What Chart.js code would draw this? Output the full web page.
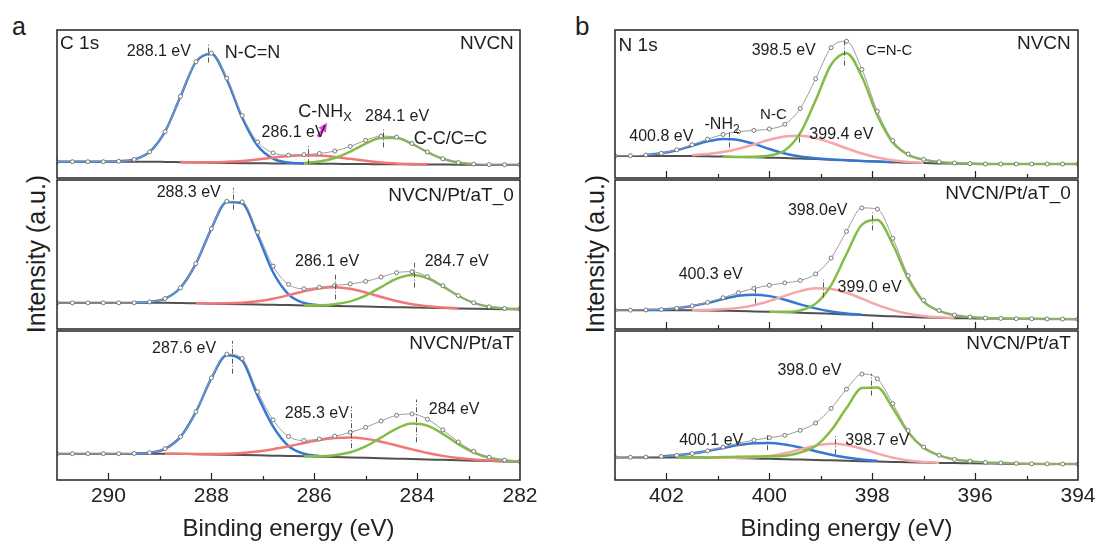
<!DOCTYPE html>
<html>
<head>
<meta charset="utf-8">
<script src="https://cdn.jsdelivr.net/npm/chart.js@4.4.1/dist/chart.umd.min.js"></script>
<style>
  body { margin: 0; background: #fff; }
  #wrap { position: relative; width: 1099px; height: 546px; overflow: hidden; font-family: "Liberation Sans", Arial, sans-serif; color: #1e1e1e; }
  #wrap canvas { position: absolute; }
  .t { position: absolute; line-height: 1; white-space: nowrap; }
  .yl { position: absolute; line-height: 1; white-space: nowrap; font-size: 25px; transform: translate(-50%, -50%) rotate(-90deg); }
</style>
</head>
<body>
<div id="wrap">
  <div class="t" style="left:12px;top:14px;font-size:25px">a</div>
  <div class="t" style="left:575px;top:13px;font-size:26px">b</div>
  <div class="yl" style="left:36px;top:254px">Intensity (a.u.)</div>
  <div class="yl" style="left:595px;top:254px">Intensity (a.u.)</div>
</div>
<script>
const _ = null;

// binding energy grids (eV)
const energyC = [291.0, 290.7, 290.4, 290.1, 289.8, 289.5, 289.2, 288.9, 288.6, 288.3, 288.0, 287.7, 287.4, 287.1, 286.8, 286.5,
  286.2, 285.9, 285.6, 285.3, 285.0, 284.7, 284.4, 284.1, 283.8, 283.5, 283.2, 282.9, 282.6, 282.3, 282.0];
const energyN = [403.0, 402.7, 402.4, 402.1, 401.8, 401.5, 401.2, 400.9, 400.6, 400.3, 400.0, 399.7, 399.4, 399.1, 398.8, 398.5,
  398.2, 397.9, 397.6, 397.3, 397.0, 396.7, 396.4, 396.1, 395.8, 395.5, 395.2, 394.9, 394.6, 394.3, 394.0];
const ticksC = [290, 288, 286, 284, 282];
const ticksN = [402, 400, 398, 396, 394];

// C 1s - NVCN
const c1Raw = [16.5, 16.5, 16.5, 16.5, 16.9, 18.8, 26.5, 47.0, 82.7, 117.9, 126.5, 101.2, 63.3, 36.5, 25.4, 23.1,
  23.7, 24.9, 27.3, 32.0, 38.2, 42.4, 41.4, 35.0, 26.4, 19.5, 15.7, 14.1, 13.6, 13.5, 13.5];
const c1Base = [16.5, 16.5, 16.5, 16.5, 16.5, 16.5, 16.5, 16.3, 16.0, 15.7, 15.4, 15.2, 15.0, 14.9, 14.8, 14.7,
  14.6, 14.5, 14.4, 14.2, 14.1, 14.0, 13.9, 13.8, 13.7, 13.6, 13.5, 13.5, 13.5, 13.5, 13.5];
const c1NCN = [16.5, 16.5, 16.5, 16.5, 16.9, 18.8, 26.5, 47.0, 82.6, 117.7, 126.0, 100.0, 61.0, 32.6, 19.6, 15.6,
  14.7, _, _, _, _, _, _, _, _, _, _, _, _, _, _];
const c1CNH = [_, _, _, _, _, _, _, _, 16.1, 15.9, 15.9, 16.4, 17.3, 18.8, 20.6, 22.2,
  23.0, 22.7, 21.4, 19.4, 17.4, 15.8, 14.8, 14.2, 13.8, _, _, _, _, _, _];
const c1CC = [_, _, _, _, _, _, _, _, _, _, _, _, _, _, _, _,
  15.2, 16.7, 20.3, 26.8, 34.9, 40.6, 40.5, 34.6, 26.3, 19.5, 15.7, 14.1, _, _, _];

// C 1s - NVCN/Pt/aT_0
const c2Raw = [26.5, 26.5, 26.5, 26.5, 26.5, 26.6, 27.4, 30.8, 41.8, 66.3, 101.7, 129.4, 128.8, 98.1, 63.7, 45.3,
  40.8, 42.3, 44.1, 45.7, 48.2, 52.6, 57.1, 58.1, 53.1, 43.8, 33.9, 26.6, 22.5, 20.8, 20.2];
const c2Base = [26.5, 26.5, 26.5, 26.5, 26.5, 26.5, 26.5, 26.5, 26.3, 26.0, 25.7, 25.4, 25.1, 24.8, 24.5, 24.2,
  23.9, 23.6, 23.3, 23.0, 22.7, 22.4, 22.1, 21.8, 21.5, 21.2, 20.9, 20.6, 20.3, 20.1, 20.0];
const c2NCN = [_, _, _, _, _, 26.6, 27.4, 30.8, 41.8, 66.2, 101.5, 128.8, 127.3, 94.8, 57.5, 35.2,
  26.4, 24.1, _, _, _, _, _, _, _, _, _, _, _, _, _];
const c2CNH = [_, _, _, _, _, _, _, _, _, 26.1, 25.9, 26.0, 26.6, 28.1, 30.7, 34.3,
  38.2, 41.3, 42.3, 40.7, 37.0, 32.5, 28.3, 25.1, 23.0, 21.8, 21.1, _, _, _, _];
const c2CC = [_, _, _, _, _, _, _, _, _, _, _, _, _, _, _, _,
  24.0, 24.1, 25.1, 28.0, 33.9, 42.5, 50.9, 54.8, 51.6, 43.2, 33.7, 26.5, 22.5, 20.8, 20.2];

// C 1s - NVCN/Pt/aT
const c3Raw = [26.5, 26.5, 26.5, 26.5, 26.5, 26.7, 27.5, 31.5, 43.5, 68.7, 102.8, 126.7, 122.3, 88.8, 60.5, 43.9,
  39.8, 41.3, 44.1, 47.9, 53.0, 59.4, 65.1, 66.5, 61.2, 50.4, 38.3, 28.8, 22.9, 20.0, 18.7];
const c3Base = [26.5, 26.5, 26.5, 26.5, 26.5, 26.5, 26.5, 26.5, 26.3, 26.0, 25.7, 25.4, 25.1, 24.8, 24.5, 24.2,
  23.9, 23.5, 23.1, 22.7, 22.3, 21.9, 21.5, 21.1, 20.7, 20.3, 19.9, 19.5, 19.1, 18.7, 18.3];
const c3NCN = [_, _, _, _, _, 26.7, 27.5, 31.4, 43.4, 68.5, 102.3, 125.6, 120.1, 84.8, 54.0, 34.2,
  26.4, 24.1, _, _, _, _, _, _, _, _, _, _, _, _, _];
const c3CNH = [_, _, _, _, _, _, _, 26.5, 26.4, 26.2, 26.2, 26.5, 27.3, 28.8, 31.0, 33.9,
  37.2, 40.2, 42.2, 42.7, 41.4, 38.6, 34.8, 30.8, 27.2, 24.3, 22.1, 20.6, 19.6, 18.9, _];
const c3CC = [_, _, _, _, _, _, _, _, _, _, _, _, _, _, _, _,
  24.0, 24.0, 25.0, 27.9, 33.9, 42.7, 51.8, 56.8, 54.7, 46.4, 36.1, 27.7, 22.4, 19.8, 18.6];

// N 1s - NVCN
const n1Raw = [22.4, 22.6, 23.3, 25.1, 28.6, 33.7, 39.4, 44.1, 46.9, 48.2, 49.7, 54.4, 70.4, 100.6, 132.1, 138.6,
  110.1, 67.5, 37.9, 24.3, 18.9, 16.4, 15.2, 14.6, 14.2, 14.2, 14.2, 14.2, 14.2, 14.2, 14.2];
const n1Base = [22.3, 22.3, 22.3, 22.3, 22.3, 22.3, 22.0, 21.7, 21.4, 21.0, 20.6, 20.2, 19.7, 19.2, 18.6, 18.0,
  17.3, 16.6, 16.0, 15.5, 15.1, 14.8, 14.6, 14.4, 14.2, 14.2, 14.2, 14.2, 14.2, 14.2, 14.2];
const n1NH2 = [_, _, 23.3, 25.1, 28.2, 32.7, 37.1, 39.5, 38.6, 34.6, 29.4, 24.9, 21.7, 19.9, 18.8, 18.0,
  17.3, 16.6, 16.0, _, _, _, _, _, _, _, _, _, _, _, _];
const n1NC = [_, _, _, _, _, 23.3, 24.3, 26.3, 29.7, 34.1, 38.7, 42.0, 42.7, 40.4, 35.7, 30.1,
  24.8, 20.7, 17.9, 16.3, 15.4, _, _, _, _, _, _, _, _, _, _];
const n1CNC = [_, _, _, _, _, _, _, 21.7, 21.4, 21.5, 22.8, 27.9, 45.4, 78.7, 114.8, 126.5,
  102.6, 63.4, 36.0, 23.5, 18.6, 16.3, 15.2, 14.6, 14.2, 14.2, 14.2, 14.2, 14.2, 14.2, 14.2];

// N 1s - NVCN/Pt/aT_0
const n2Raw = [19.0, 19.1, 19.3, 19.8, 21.0, 23.5, 27.0, 31.7, 36.8, 41.1, 44.3, 46.7, 49.2, 55.8, 71.9, 98.9,
  122.7, 121.5, 91.9, 54.0, 29.1, 18.8, 14.2, 12.1, 11.1, 10.7, 10.4, 10.3, 10.2, 10.1, 10.0];
const n2Base = [19.0, 19.0, 19.0, 19.0, 19.0, 19.0, 18.8, 18.5, 18.2, 17.8, 17.4, 17.0, 16.5, 16.0, 15.4, 14.8,
  14.1, 13.4, 12.8, 12.2, 11.7, 11.3, 11.0, 10.8, 10.6, 10.5, 10.4, 10.3, 10.2, 10.1, 10.0];
const n2NH2 = [_, _, 19.3, 19.8, 21.0, 23.3, 26.5, 30.3, 33.6, 34.8, 33.3, 29.7, 25.0, 20.9, 17.8, 15.8,
  14.4, _, _, _, _, _, _, _, _, _, _, _, _, _, _];
const n2NC = [_, _, _, _, _, 19.2, 19.3, 19.9, 21.4, 24.1, 28.4, 33.6, 38.4, 41.2, 40.6, 36.7,
  30.7, 24.4, 19.1, 15.4, 13.1, 11.8, 11.2, _, _, _, _, _, _, _, _];
const n2CNC = [_, _, _, _, _, _, _, _, _, _, 17.4, 17.4, 18.8, 25.7, 44.3, 76.0,
  105.8, 110.5, 85.6, 50.8, 27.7, 18.3, 14.0, 12.1, 11.1, 10.7, 10.4, 10.3, 10.2, 10.1, 10.0];

// N 1s - NVCN/Pt/aT
const n3Raw = [22.8, 22.9, 23.1, 23.7, 24.8, 26.6, 29.3, 33.1, 37.0, 40.1, 42.6, 45.0, 50.0, 57.4, 72.1, 91.5,
  106.6, 101.9, 76.8, 49.8, 33.2, 25.0, 20.7, 19.0, 17.7, 17.2, 16.7, 16.3, 16.2, 16.1, 16.0];
const n3Base = [22.7, 22.7, 22.7, 22.7, 22.7, 22.7, 22.5, 22.3, 22.0, 21.7, 21.3, 21.0, 20.6, 20.2, 19.8, 19.4,
  19.0, 18.6, 18.2, 17.8, 17.5, 17.2, 17.0, 16.8, 16.6, 16.4, 16.2, 16.0, 16.0, 16.0, 16.0];
const n3NH2 = [_, _, _, 23.7, 24.8, 26.6, 29.1, 32.2, 35.1, 37.0, 37.3, 35.7, 32.7, 29.0, 25.4, 22.6,
  20.6, 19.3, _, _, _, _, _, _, _, _, _, _, _, _, _];
const n3NC = [_, _, _, _, _, _, 22.5, 22.4, 22.4, 22.8, 24.1, 26.9, 30.8, 34.6, 36.5, 35.3,
  31.5, 26.7, 22.5, 19.7, 18.2, 17.4, _, _, _, _, _, _, _, _, _];
const n3CNC = [_, _, _, _, 22.7, 22.7, 22.7, 23.1, 23.5, 23.7, 23.8, 24.4, 27.7, 34.2, 49.8, 72.4,
  92.5, 93.1, 72.2, 47.8, 32.5, 24.8, 20.7, 19.0, 17.7, 17.2, 16.7, 16.3, 16.2, 16.1, 16.0];

const FONT = '"Liberation Sans", Arial, sans-serif';
const BLUE = '#3578d4';
const GREEN = '#84bd46';
const PX = 34, PY = 4;

// frame, inward ticks, dashed peak markers, labels
const overlay = {
  id: 'overlay',
  afterDraw(chart, args, o) {
    const { ctx, chartArea: a, scales: { x, y } } = chart;
    ctx.save();
    ctx.lineWidth = 1;
    ctx.strokeStyle = '#555';
    ctx.setLineDash([5, 2, 1, 2]);
    for (const [e, v0, v1] of o.marks) {
      const px = Math.round(x.getPixelForValue(e)) + 0.5;
      ctx.beginPath();
      ctx.moveTo(px, y.getPixelForValue(v0));
      ctx.lineTo(px, y.getPixelForValue(v1));
      ctx.stroke();
    }
    ctx.setLineDash([]);
    if (o.arrow) {
      const [e0, v0, e1, v1] = o.arrow;
      const x0 = x.getPixelForValue(e0), y0 = y.getPixelForValue(v0);
      const x1 = x.getPixelForValue(e1), y1 = y.getPixelForValue(v1);
      const len = Math.hypot(x1 - x0, y1 - y0), ux = (x1 - x0) / len, uy = (y1 - y0) / len;
      ctx.strokeStyle = ctx.fillStyle = '#e448e0';
      ctx.lineWidth = 3;
      ctx.beginPath();
      ctx.moveTo(x0, y0);
      ctx.lineTo(x1 - ux * 6, y1 - uy * 6);
      ctx.stroke();
      ctx.beginPath();
      ctx.moveTo(x1, y1);
      ctx.lineTo(x1 - ux * 9 - uy * 4.5, y1 - uy * 9 + ux * 4.5);
      ctx.lineTo(x1 - ux * 9 + uy * 4.5, y1 - uy * 9 - ux * 4.5);
      ctx.closePath();
      ctx.fill();
    }
    if (o.ticks) {
      ctx.strokeStyle = '#222';
      ctx.lineWidth = 1.2;
      for (let v = Math.ceil(x.min) + 1; v < x.max; v++) {
        const px = Math.round(x.getPixelForValue(v)) + 0.5;
        ctx.beginPath();
        ctx.moveTo(px, a.bottom);
        ctx.lineTo(px, a.bottom - (v % 2 ? 4 : 7));
        ctx.stroke();
      }
    }
    ctx.strokeStyle = '#222';
    ctx.lineWidth = 1.5;
    ctx.strokeRect(a.left, a.top, a.right - a.left, a.bottom - a.top);
    ctx.fillStyle = '#1e1e1e';
    ctx.textBaseline = 'middle';
    ctx.textAlign = 'left';
    for (const t of o.texts) {
      const f = t.size + 'px ' + FONT, fs = Math.round(t.size * 0.72) + 'px ' + FONT;
      ctx.font = f;
      const w0 = ctx.measureText(t.t).width;
      let w1 = 0;
      if (t.sub) { ctx.font = fs; w1 = ctx.measureText(t.sub).width; }
      let px = x.getPixelForValue(t.x);
      if (t.align === 'right') px -= w0 + w1;
      else if (t.align !== 'left') px -= (w0 + w1) / 2;
      const py = y.getPixelForValue(t.y);
      ctx.font = f;
      ctx.fillText(t.t, px, py);
      if (t.sub) { ctx.font = fs; ctx.fillText(t.sub, px + w0, py + t.size * 0.32); }
    }
    ctx.restore();
  }
};

const wrap = document.getElementById('wrap');

function panel(o) {
  const cv = document.createElement('canvas');
  const top = o.top - PY;
  cv.width = o.w + 2 * PX;
  cv.height = o.axis ? 546 - top : o.h + 2 * PY;
  cv.style.left = (o.left - PX) + 'px';
  cv.style.top = top + 'px';
  wrap.appendChild(cv);
  const pts = ys => o.energy.map((x, i) => ({ x, y: ys[i] })).filter(p => p.y !== null);
  const line = (ys, color, width, order) => ({
    data: pts(ys), borderColor: color, borderWidth: width, pointRadius: 0,
    cubicInterpolationMode: 'monotone', fill: false, order
  });
  const xScale = {
    type: 'linear', min: o.min, max: o.max, reverse: true, display: !!o.axis,
    grid: { display: false, drawTicks: false },
    border: { display: false },
    afterBuildTicks: s => { s.ticks = o.tickVals.map(v => ({ value: v })); },
    ticks: { font: { family: FONT, size: 21 }, color: '#222', padding: 4, maxRotation: 0, autoSkip: false },
    title: { display: true, text: 'Binding energy (eV)', color: '#222',
      font: { family: FONT, size: 24 }, padding: { top: 0, bottom: 2 } }
  };
  if (o.axis) xScale.afterFit = s => { s.height = 66; };
  new Chart(cv, {
    type: 'line',
    data: {
      datasets: [
        { data: pts(o.raw), borderColor: '#9c9c9c', borderWidth: 1, pointRadius: 2, pointBorderWidth: 1,
          pointBorderColor: '#777', pointBackgroundColor: '#fff', cubicInterpolationMode: 'monotone', fill: false, order: 0 },
        line(o.green, GREEN, 2.5, 1),
        line(o.red, o.redColor, 2.5, 2),
        line(o.blue, BLUE, 2.5, 3),
        line(o.base, '#505050', 2, 4)
      ]
    },
    options: {
      responsive: false,
      animation: false,
      events: [],
      layout: { padding: { left: PX, right: PX, top: PY, bottom: o.axis ? 0 : PY } },
      plugins: {
        legend: { display: false },
        tooltip: { enabled: false },
        overlay: { marks: o.marks, texts: o.texts, arrow: o.arrow, ticks: o.ticks }
      },
      scales: {
        x: xScale,
        y: { display: false, min: 0, max: o.h }
      }
    },
    plugins: [overlay]
  });
}

const rows = [{ top: 29, h: 150 }, { top: 179, h: 151 }, { top: 330, h: 150 }];
const colC = { left: 57, w: 463, energy: energyC, min: 282, max: 291, tickVals: ticksC, redColor: '#f17676' };
const colN = { left: 615, w: 463, energy: energyN, min: 394, max: 403, tickVals: ticksN, redColor: '#f5a6aa' };

panel({ ...colC, ...rows[0], raw: c1Raw, base: c1Base, blue: c1NCN, red: c1CNH, green: c1CC,
  marks: [[288.07, 117, 136], [286.12, 14, 34], [284.67, 31, 50]],
  arrow: [285.93, 41.7, 285.75, 56],
  texts: [
    { t: 'C 1s', x: 290.94, y: 136, size: 19, align: 'left' },
    { t: 'NVCN', x: 282.12, y: 136, size: 19, align: 'right' },
    { t: '288.1 eV', x: 289.02, y: 128, size: 16 },
    { t: 'N-C=N', x: 287.2, y: 127, size: 18 },
    { t: 'C-NH', sub: 'X', x: 286.31, y: 67, size: 18, align: 'left' },
    { t: '286.1 eV', x: 286.4, y: 46, size: 16 },
    { t: '284.1 eV', x: 284.39, y: 62, size: 16 },
    { t: 'C-C/C=C', x: 283.35, y: 40, size: 18 }
  ] });
panel({ ...colC, ...rows[1], raw: c2Raw, base: c2Base, blue: c2NCN, red: c2CNH, green: c2CC,
  marks: [[287.57, 121, 143], [285.59, 30, 55], [284.07, 42, 67]],
  texts: [
    { t: 'NVCN/Pt/aT_0', x: 282.12, y: 135, size: 19, align: 'right' },
    { t: '288.3 eV', x: 288.44, y: 138, size: 16 },
    { t: '286.1 eV', x: 285.75, y: 68, size: 16 },
    { t: '284.7 eV', x: 283.23, y: 68, size: 16 }
  ] });
panel({ ...colC, ...rows[2], axis: true, ticks: true, raw: c3Raw, base: c3Base, blue: c3NCN, red: c3CNH, green: c3CC,
  marks: [[287.6, 107, 140], [285.29, 32, 74], [284.02, 38, 81]],
  texts: [
    { t: 'NVCN/Pt/aT', x: 282.12, y: 137, size: 19, align: 'right' },
    { t: '287.6 eV', x: 288.53, y: 132, size: 16 },
    { t: '285.3 eV', x: 285.95, y: 67, size: 16 },
    { t: '284 eV', x: 283.28, y: 71, size: 16 }
  ] });

panel({ ...colN, ...rows[0], ticks: true, raw: n1Raw, base: n1Base, blue: n1NH2, red: n1NC, green: n1CNC,
  marks: [[398.55, 114, 139], [400.79, 31, 47], [399.43, 36, 46]],
  texts: [
    { t: 'N 1s', x: 402.93, y: 134, size: 19, align: 'left' },
    { t: 'NVCN', x: 394.14, y: 136, size: 19, align: 'right' },
    { t: '398.5 eV', x: 399.72, y: 129, size: 16 },
    { t: 'C=N-C', x: 397.67, y: 129, size: 15 },
    { t: 'N-C', x: 399.92, y: 64, size: 15 },
    { t: '-NH', sub: '2', x: 401.26, y: 54, size: 16, align: 'left' },
    { t: '400.8 eV', x: 402.1, y: 42, size: 16 },
    { t: '399.4 eV', x: 398.6, y: 44, size: 16 }
  ] });
panel({ ...colN, ...rows[1], ticks: true, raw: n2Raw, base: n2Base, blue: n2NH2, red: n2NC, green: n2CNC,
  marks: [[398.0, 100, 118], [400.27, 26, 44], [398.95, 32, 50]],
  texts: [
    { t: 'NVCN/Pt/aT_0', x: 394.14, y: 137, size: 19, align: 'right' },
    { t: '398.0eV', x: 399.06, y: 120, size: 16 },
    { t: '400.3 eV', x: 401.14, y: 55, size: 16 },
    { t: '399.0 eV', x: 398.05, y: 42, size: 16 }
  ] });
panel({ ...colN, ...rows[2], axis: true, ticks: true, raw: n3Raw, base: n3Base, blue: n3NH2, red: n3NC, green: n3CNC,
  marks: [[398.03, 85, 107], [400.05, 30, 45], [398.72, 26, 46]],
  texts: [
    { t: 'NVCN/Pt/aT', x: 394.14, y: 137, size: 19, align: 'right' },
    { t: '398.0 eV', x: 399.22, y: 110, size: 16 },
    { t: '400.1 eV', x: 401.13, y: 40, size: 16 },
    { t: '398.7 eV', x: 397.9, y: 40, size: 16 }
  ] });
</script>
</body>
</html>
